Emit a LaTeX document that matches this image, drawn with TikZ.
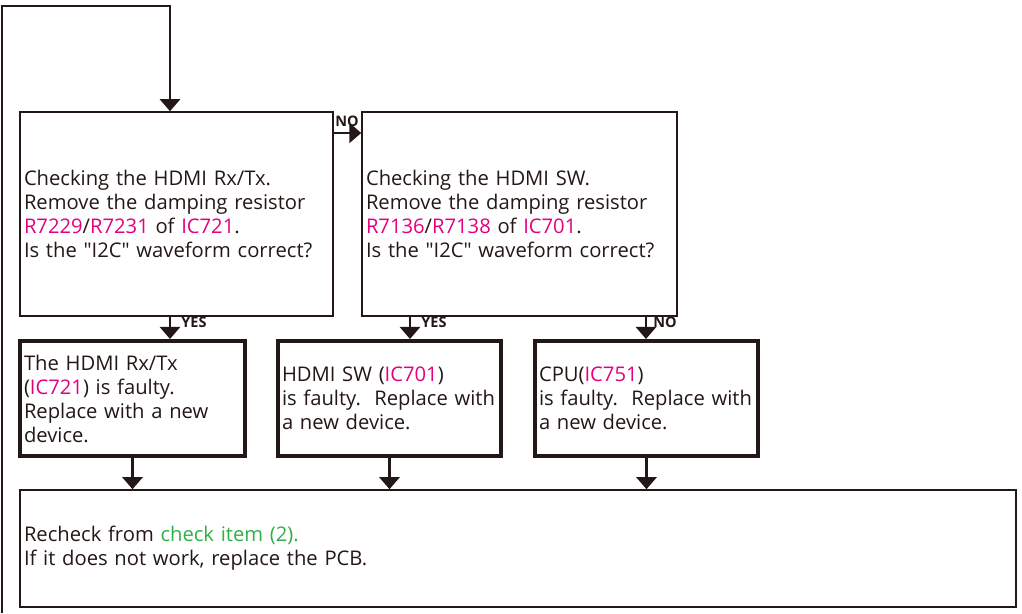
\documentclass[tikz,border=0pt]{standalone}
\usepackage{fontspec}
\setmainfont{Open Sans}
\usetikzlibrary{arrows.meta,calc}
\definecolor{mag}{RGB}{228,0,127}
\definecolor{grn}{RGB}{50,175,70}
\definecolor{ink}{RGB}{35,24,21}
\newcommand{\qq}{\textquotedbl}
\tikzset{
  thinbox/.style={draw=ink,line width=1.5pt,inner xsep=4pt,inner ysep=0pt,align=left,font=\fontsize{20.2}{24}\selectfont,text=ink},
  thickbox/.style={draw=ink,line width=4pt,inner xsep=4pt,inner ysep=0pt,align=left,font=\fontsize{20.2}{24}\selectfont,text=ink},
  arr/.style={draw=ink,line width=2.5pt,-{Triangle[width=20pt,length=12pt]}},
  lbl/.style={font=\fontsize{14.5}{15}\bfseries\selectfont,text=ink,inner sep=0pt}
}
\begin{document}
\begin{tikzpicture}[x=1pt,y=1pt]
\useasboundingbox (0,0) rectangle (1022,613);
\node[thinbox,text width=305pt,minimum height=204pt] (b1) at (176.5,399)
 {Checking the HDMI Rx/Tx.\\Remove the damping resistor\\\textcolor{mag}{R7229}/\textcolor{mag}{R7231} of \textcolor{mag}{IC721}.\\Is the \qq I2C\qq{} waveform correct?};
\node[thinbox,text width=307pt,minimum height=204pt] (b2) at (519.5,399)
 {Checking the HDMI SW.\\Remove the damping resistor\\\textcolor{mag}{R7136}/\textcolor{mag}{R7138} of \textcolor{mag}{IC701}.\\Is the \qq I2C\qq{} waveform correct?};
\node[thickbox,text width=217pt,minimum height=115pt] (b3) at (132.5,214.5)
 {The HDMI Rx/Tx\\(\textcolor{mag}{IC721}) is faulty.\\Replace with a new\\device.};
\node[thickbox,text width=215pt,minimum height=115pt] (b4) at (389.5,214.5)
 {HDMI SW (\textcolor{mag}{IC701})\\is faulty.\ \ Replace with\\a new device.};
\node[thickbox,text width=215pt,minimum height=115pt] (b5) at (646.5,214.5)
 {CPU(\textcolor{mag}{IC751})\\is faulty.\ \ Replace with\\a new device.};
\node[thinbox,text width=988pt,minimum height=117pt] (b6) at (518,64.5)
 {Recheck from \textcolor{grn}{check item (2).}\\If it does not work, replace the PCB.};
\coordinate (start) at (2,0);
\coordinate (top) at (170,607);
\coordinate (noy) at (0,480);
\coordinate (x1) at (170,0);
\coordinate (x2) at (410,0);
\coordinate (x3) at (646,0);
\draw[arr] (start) |- (top) -- (b1.north -| top);
\draw[arr] (b1.east |- noy) -- (b2.west |- noy);
\draw[arr] (b1.south -| x1) -- (b3.north -| x1);
\draw[arr] (b2.south -| x2) -- (b4.north -| x2);
\draw[arr] (b2.south -| x3) -- (b5.north -| x3);
\draw[arr] (b3.south) -- (b3.south |- b6.north);
\draw[arr] (b4.south) -- (b4.south |- b6.north);
\draw[arr] (b5.south) -- (b5.south |- b6.north);
\node[lbl] (no1) at (347,492) {NO};
\node[lbl] (yes1) at (194,291) {YES};
\node[lbl] (yes2) at (434,291) {YES};
\node[lbl] (no2) at (665,291) {NO};
\end{tikzpicture}
\end{document}
